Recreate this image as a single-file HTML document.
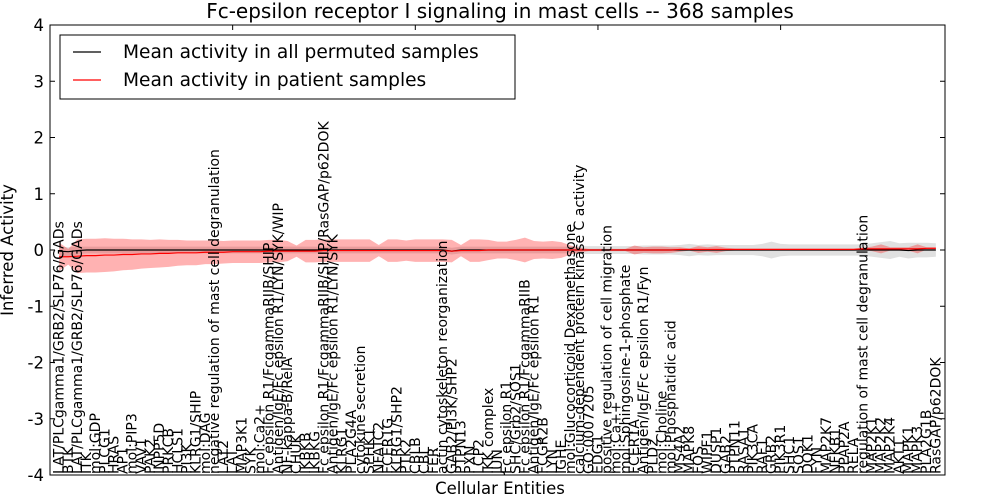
<!DOCTYPE html>
<html><head><meta charset="utf-8"><style>
html,body{margin:0;padding:0;background:#fff;}
svg{display:block;font-family:"DejaVu Sans","Liberation Sans",sans-serif;}
</style></head><body>
<svg id="chart" width="1000" height="500" viewBox="0 0 1000 500">
<text x="500" y="18" text-anchor="middle" font-size="20">Fc-epsilon receptor I signaling in mast cells -- 368 samples</text>
<g id="bands"></g>
<g id="lines"></g>
<g id="axes"></g>
<g id="xlabels"></g>
<text x="500" y="494" text-anchor="middle" font-size="16.5">Cellular Entities</text>
<text transform="translate(13,250) rotate(-90)" text-anchor="middle" font-size="16.5">Inferred Activity</text>
<g>
<rect x="60" y="35" width="455" height="64" fill="#fff" stroke="#000" stroke-width="1"/>
<line x1="73" y1="52" x2="101" y2="52" stroke="#000" stroke-width="1.2"/>
<text x="123" y="58" font-size="18.6">Mean activity in all permuted samples</text>
<line x1="73" y1="80" x2="101" y2="80" stroke="#f00" stroke-width="1.2"/>
<text x="123" y="86" font-size="18.6">Mean activity in patient samples</text>
</g>
</svg>
<script>
const labels=["LAT/PLCgamma1/GRB2/SLP76/GADs","BTK","LAT/PLCgamma1/GRB2/SLP76/GADs","ITK","mol:GDP","PLCG1","HRAS","AP1","mol:PIP3","VAV1","PAK2","INPP5D","PRKCB","HCLS1","PI3K","KLRG1/SHIP","mol:DAG","negative regulation of mast cell degranulation","LAT2","LAT","MAP3K1","SYK","mol:Ca2+","Fc epsilon R1/FcgammaRIIB/SHIP","Antigen/IgE/Fc epsilon R1/LYN/SYK/WIP","NF-kappa-B/RelA","CHUK","IKBKB","IKBKG","Fc epsilon R1/FcgammaRIIB/SHIP/RasGAP/p62DOK","Antigen/IgE/Fc epsilon R1/LYN/SYK","KLRG1","PLA2G4A","cytokine secretion","SPHK1","NFATC2","FCER1G","KLRG1/SHP2","PTK2","CBLB","CBL","FER","actin cytoskeleton reorganization","GAB2/PI3K/SHP2","PTPN13","PXN","LCP2","IKK complex","JUN","Fc epsilon R1","SHC/Grb2/SOS1","Fc epsilon R1/FcgammaRIIB","Antigen/IgE/Fc epsilon R1","FCGR2B","LYN","IGHE","mol:Glucocorticoid Dexamethasone","calcium-dependent protein kinase C activity","GO:0007205","EDG1","positive regulation of cell migration","mol:Ca++","mol:Sphingosine-1-phosphate","FCER1A","Antigen/IgE/Fc epsilon R1/Fyn","PLD2","mol:Choline","mol:Phosphatidic acid","MS4A2","MAPK8","FOS","WIPF1","DUSP1","GAB2","PTPN11","RASA1","PIK3CA","RAF1","GRB2","PIK3R1","SHC1","SOS1","DOK1","FYN","MAP2K7","NFKB1","PPAP2A","RELA","regulation of mast cell degranulation","MAP2K1","MAP2K2","MAP2K4","AKT1","MAPK1","MAPK3","PLA2G1B","RasGAP/p62DOK"];
const patientMean=[-0.12,-0.12,-0.11,-0.1,-0.1,-0.09,-0.09,-0.08,-0.08,-0.07,-0.07,-0.06,-0.06,-0.05,-0.05,-0.05,-0.04,-0.04,-0.04,-0.03,-0.03,-0.03,-0.03,-0.02,-0.02,-0.02,-0.02,-0.02,-0.02,-0.01,-0.01,-0.01,-0.01,-0.01,-0.01,-0.01,-0.01,-0.01,-0.01,-0.01,-0.01,-0.01,-0.01,-0.02,-0.01,-0.01,-0.01,0,0,0,0,0,0,0,0,0,0,0,0,0,0,0,0,0,0,0,0,0,0.01,0.01,0.01,0.01,0.01,0.01,0.01,0.01,0.01,0.01,0.01,0.01,0.01,0.01,0.01,0.01,0.01,0.01,0.01,0.01,0.02,0.02,0.02,0.02,0.02,0.02,0.02,0.03,0.03];
const patientSpread=[0.25,0.14,0.3,0.3,0.3,0.3,0.29,0.28,0.27,0.26,0.25,0.25,0.24,0.23,0.22,0.22,0.21,0.21,0.2,0.2,0.2,0.2,0.2,0.2,0.2,0.18,0.1,0.2,0.2,0.2,0.2,0.2,0.2,0.2,0.2,0.1,0.2,0.2,0.18,0.2,0.2,0.2,0.2,0.2,0.1,0.2,0.2,0.18,0.15,0.15,0.18,0.22,0.16,0.15,0.16,0.14,0.08,0.04,0.02,0.02,0.02,0.02,0.02,0.08,0.05,0.06,0.06,0.05,0.04,0.02,0.06,0.04,0.06,0.03,0.02,0.02,0.02,0.02,0.02,0.02,0.02,0.02,0.02,0.02,0.02,0.02,0.02,0.02,0.02,0.04,0.08,0.03,0.03,0.03,0.08,0.02,0.02];
const permMean=[-0.02,-0.03,-0.01,0,0,0,0,0,0,0,0,0,0,0,0,0,0,0,0,0,0,0,0,0,0,0,0,0,0,0,0,0,0,0,0,0,0,0,0,0,0,0,0,-0.02,0,0,0,0,0,0,0,0,0,0,0,0,0,0,0,0,0,0,0,0,0,0,0,0,0,0,0,0,0,0,0,0,0,0,0,0,0,0,0,0,0,0,0,0,0,0,0,0,0,-0.01,0,0,0];
const permSpread=[0.08,0.08,0.07,0.06,0.06,0.06,0.06,0.06,0.06,0.06,0.06,0.06,0.06,0.06,0.06,0.06,0.06,0.06,0.06,0.06,0.06,0.06,0.06,0.06,0.06,0.06,0.06,0.06,0.06,0.06,0.06,0.06,0.06,0.06,0.06,0.06,0.06,0.06,0.06,0.06,0.06,0.06,0.06,0.06,0.06,0.06,0.06,0.06,0.06,0.06,0.06,0.06,0.06,0.06,0.06,0.06,0.06,0.07,0.07,0.07,0.07,0.07,0.07,0.07,0.08,0.08,0.08,0.08,0.09,0.11,0.09,0.1,0.09,0.09,0.09,0.09,0.09,0.11,0.15,0.11,0.1,0.1,0.1,0.1,0.1,0.1,0.1,0.1,0.1,0.12,0.14,0.16,0.12,0.14,0.13,0.13,0.12];
const yTicks=[-4,-3,-2,-1,0,1,2,3,4];
const L=50,R=945,T=25,B=475;
const xs=i=>L+(i+1)*(R-L)/98;
const ys=v=>T+(4-v)*(B-T)/8;
const NS="http://www.w3.org/2000/svg";
function mk(tag,attrs,parent){const e=document.createElementNS(NS,tag);for(const k in attrs)e.setAttribute(k,attrs[k]);parent.appendChild(e);return e;}
const bands=document.getElementById('bands'),lines=document.getElementById('lines'),axes=document.getElementById('axes'),xl=document.getElementById('xlabels');
function band(mean,sp,fill,op,name){
  let up=mean.map((m,i)=>xs(i)+','+ys(m+sp[i])),dn=mean.map((m,i)=>xs(i)+','+ys(m-sp[i])).reverse();
  const p=mk('polygon',{points:up.concat(dn).join(' '),fill:fill,'fill-opacity':op,stroke:'none'},bands);
  
  
}
band(permMean,permSpread,'#999','0.3','permuted-band');
band(patientMean,patientSpread,'#f00','0.3','patient-band');
function line(mean,col,name){
  const p=mk('polyline',{points:mean.map((m,i)=>xs(i)+','+ys(m)).join(' '),fill:'none',stroke:col,'stroke-width':1.2},lines);
  
  
}
line(permMean,'#000','permuted-mean-line');
line(patientMean,'#f00','patient-mean-line');
const fr=mk('rect',{x:L,y:T,width:R-L,height:B-T,fill:'none',stroke:'#000','stroke-width':1},axes);


yTicks.forEach(v=>{
  mk('line',{x1:L,x2:L+5,y1:ys(v),y2:ys(v),stroke:'#000'},axes);
  mk('line',{x1:R,x2:R-5,y1:ys(v),y2:ys(v),stroke:'#000'},axes);
  const t=mk('text',{x:L-6,y:ys(v)+6,'text-anchor':'end','font-size':16.5},axes);
  t.textContent=v;
  
  
});
for(let k=20;k<98;k+=20){
  mk('line',{x1:L+k*(R-L)/98,x2:L+k*(R-L)/98,y1:T,y2:T+5,stroke:'#000'},axes);
}
labels.forEach((s,i)=>{
  const x=xs(i)+4.5;
  const t=mk('text',{transform:`translate(${x},${B-1}) rotate(-90)`,'font-size':14},xl);
  t.textContent=s;
  
  
});
</script>
</body></html>
